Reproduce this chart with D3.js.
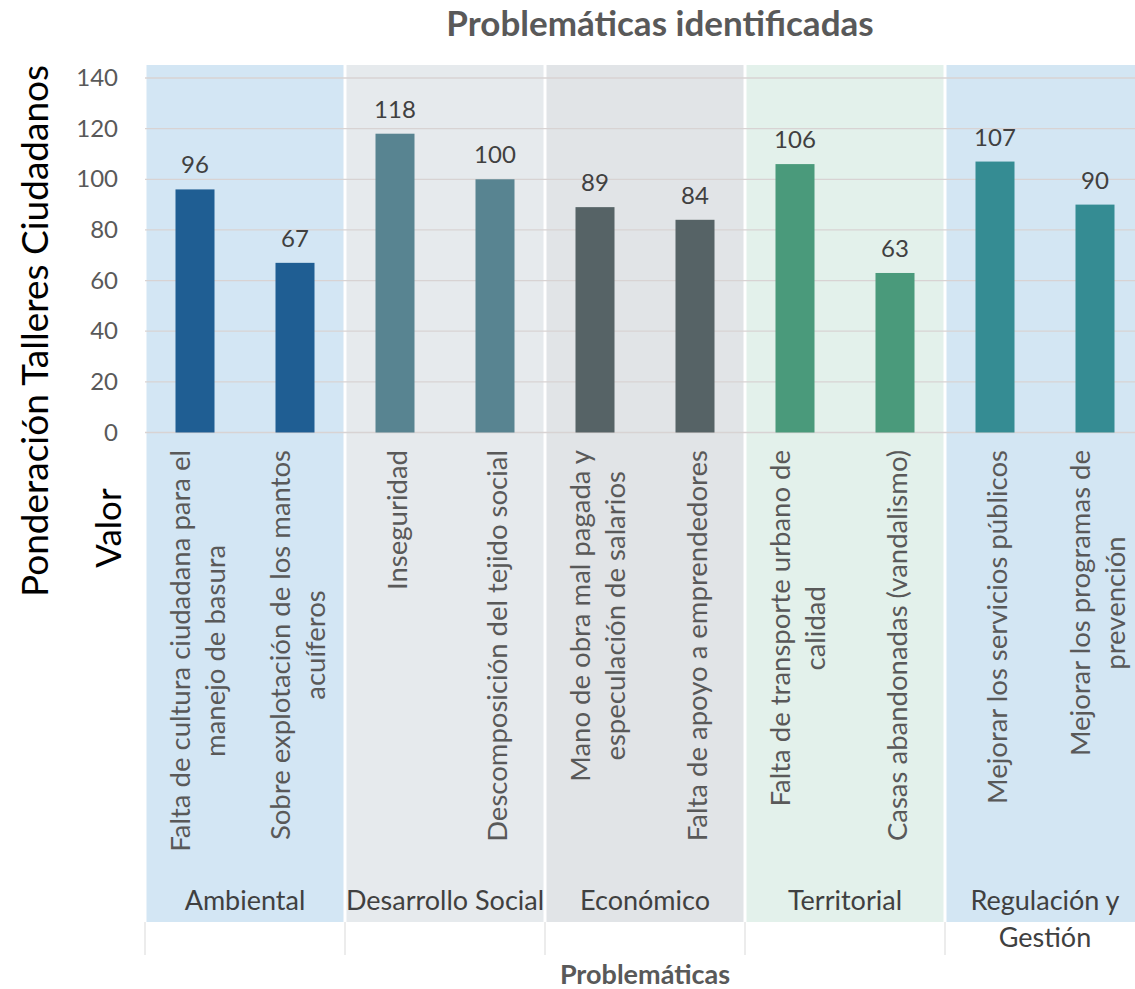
<!DOCTYPE html>
<html>
<head>
<meta charset="utf-8">
<script src="https://cdn.jsdelivr.net/npm/d3@7"></script>
<style>
  body { margin: 0; background: #fff; }
  svg { display: block; font-family: Lato, "Open Sans", sans-serif; }
</style>
</head>
<body>
<svg id="chart" width="1135" height="989"></svg>
<script>
const WIDTH = 1135;
const HEIGHT = 989;

// DATA
const groups = ['Ambiental', 'Desarrollo Social', 'Económico', 'Territorial', 'Regulación y Gestión'];
const groupLines = [['Ambiental'], ['Desarrollo Social'], ['Económico'], ['Territorial'], ['Regulación y', 'Gestión']];
const categories = [
  ['Falta de cultura ciudadana para el', 'manejo de basura'],
  ['Sobre explotación de los mantos', 'acuíferos'],
  ['Inseguridad'],
  ['Descomposición del tejido social'],
  ['Mano de obra mal pagada y', 'especulación de salarios'],
  ['Falta de apoyo a emprendedores'],
  ['Falta de transporte urbano de', 'calidad'],
  ['Casas abandonadas (vandalismo)'],
  ['Mejorar los servicios públicos'],
  ['Mejorar los programas de', 'prevención']
];
const categoryGroup = [0, 0, 1, 1, 2, 2, 3, 3, 4, 4];
const values = [96, 67, 118, 100, 89, 84, 106, 63, 107, 90];
const yTicks = [0, 20, 40, 60, 80, 100, 120, 140];

const barColors = ['#1f5e93', '#588491', '#566366', '#4a9a7b', '#358c93'];
const bandColors = ['#d3e6f4', '#e6eaed', '#e1e4e7', '#e3f1eb', '#d3e6f3'];

const X0 = 145;
const X1 = 1145;
const BAND_TOP = 65;
const BAND_BOTTOM = 922;
const LABEL_TOP = 450;

const svg = d3.select('#chart');

const x = d3.scaleBand()
  .domain(d3.range(values.length))
  .range([X0, X1])
  .paddingInner(0.61)
  .paddingOuter(0.305);

const xGroup = d3.scaleBand()
  .domain(d3.range(groups.length))
  .range([X0, X1]);

const y = d3.scaleLinear()
  .domain([0, 140])
  .range([432.5, 78]);

// background bands per group
svg.append('g')
  .selectAll('rect')
  .data(groups)
  .join('rect')
  .attr('x', (d, i) => xGroup(i) + 1.5)
  .attr('y', BAND_TOP)
  .attr('width', xGroup.bandwidth() - 3)
  .attr('height', BAND_BOTTOM - BAND_TOP)
  .attr('fill', (d, i) => bandColors[i]);

// dividers under the bands
svg.append('g')
  .selectAll('line')
  .data(d3.range(groups.length))
  .join('line')
  .attr('x1', i => xGroup(i))
  .attr('x2', i => xGroup(i))
  .attr('y1', BAND_BOTTOM)
  .attr('y2', 955)
  .attr('stroke', '#d9d9d9')
  .attr('stroke-width', 1);

// gridlines
svg.append('g')
  .selectAll('line')
  .data(yTicks)
  .join('line')
  .attr('x1', X0)
  .attr('x2', WIDTH)
  .attr('y1', d => y(d))
  .attr('y2', d => y(d))
  .attr('stroke', '#d8d3d3')
  .attr('stroke-width', 1.3);

// y axis labels
const yAxis = svg.append('g')
  .attr('transform', 'translate(118,0)')
  .call(d3.axisLeft(y).tickValues(yTicks).tickSize(0).tickPadding(0));
yAxis.select('.domain').remove();
yAxis.selectAll('text')
  .attr('font-family', 'Lato, sans-serif')
  .attr('font-size', 24)
  .attr('fill', '#595959');

// bars
svg.append('g')
  .selectAll('rect')
  .data(values)
  .join('rect')
  .attr('x', (d, i) => x(i))
  .attr('y', d => y(d))
  .attr('width', x.bandwidth())
  .attr('height', d => y(0) - y(d))
  .attr('fill', (d, i) => barColors[categoryGroup[i]]);

// value labels
svg.append('g')
  .selectAll('text')
  .data(values)
  .join('text')
  .attr('x', (d, i) => x(i) + x.bandwidth() / 2)
  .attr('y', d => y(d) - 16)
  .attr('text-anchor', 'middle')
  .attr('font-size', 24)
  .attr('fill', '#404040')
  .text(d => d);

// category labels, rotated
const catG = svg.append('g')
  .selectAll('g')
  .data(categories)
  .join('g')
  .attr('transform', (d, i) => `translate(${x(i) + x.bandwidth() / 2},${LABEL_TOP}) rotate(-90)`);

catG.each(function(lines) {
  const g = d3.select(this);
  const texts = g.selectAll('text')
    .data(lines)
    .join('text')
    .attr('text-anchor', 'middle')
    .attr('y', (d, j) => 12 + (j - (lines.length - 1) / 2) * 35)
    .attr('font-size', 27.5)
    .attr('fill', '#595959')
    .text(d => d);
  let maxLen = 0;
  texts.each(function() { maxLen = Math.max(maxLen, this.getComputedTextLength()); });
  texts.attr('x', -maxLen / 2);
});

// group labels
svg.append('g')
  .selectAll('text')
  .data(groupLines)
  .join('text')
  .attr('text-anchor', 'middle')
  .attr('font-size', 27)
  .attr('fill', '#404040')
  .each(function(lines, i) {
    d3.select(this).selectAll('tspan')
      .data(lines)
      .join('tspan')
      .attr('x', xGroup(i) + xGroup.bandwidth() / 2)
      .attr('y', (d, j) => 910 + j * 37)
      .text(d => d);
  });

// titles
svg.append('text')
  .attr('x', 660)
  .attr('y', 36)
  .attr('text-anchor', 'middle')
  .attr('font-size', 35)
  .attr('font-weight', 'bold')
  .attr('fill', '#595959')
  .text('Problemáticas identificadas');

svg.append('text')
  .attr('x', 645)
  .attr('y', 984)
  .attr('text-anchor', 'middle')
  .attr('font-size', 27)
  .attr('font-weight', 'bold')
  .attr('fill', '#595959')
  .text('Problemáticas');

svg.append('text')
  .attr('transform', 'translate(48,331) rotate(-90)')
  .attr('text-anchor', 'middle')
  .attr('font-size', 37)
  .attr('fill', '#000')
  .text('Ponderación Talleres Ciudadanos');

svg.append('text')
  .attr('transform', 'translate(121,528) rotate(-90)')
  .attr('text-anchor', 'middle')
  .attr('font-size', 35)
  .attr('fill', '#000')
  .text('Valor');
</script>
</body>
</html>
